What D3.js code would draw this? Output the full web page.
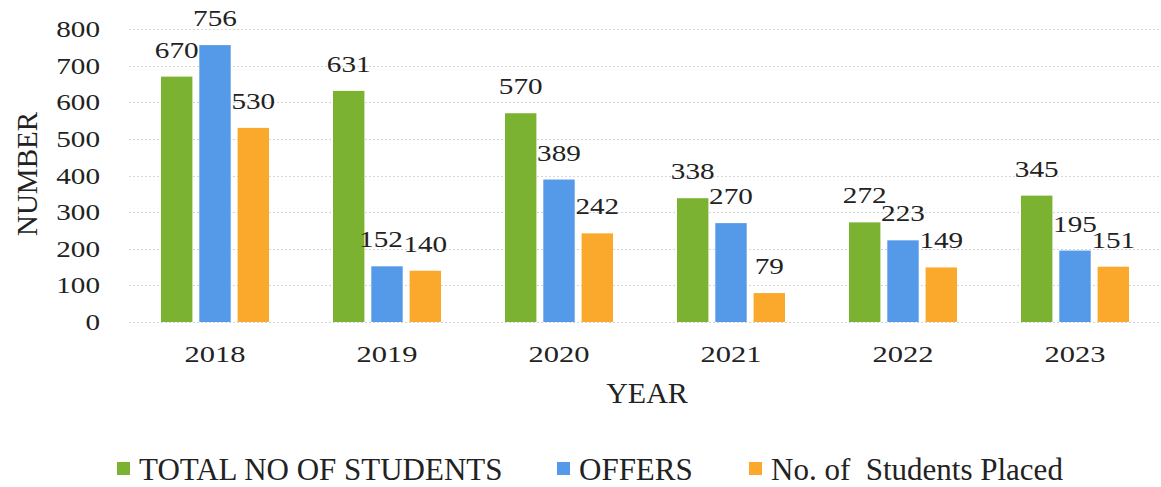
<!DOCTYPE html>
<html>
    <head>
        <meta charset="utf-8">
        <script type="text/javascript" src="https://d3js.org/d3.v7.min.js"></script>
        <style>
            html, body {
                margin: 0;
                background: #fff;
            }
            svg text {
                font-family: "Liberation Serif", "DejaVu Serif", "Times New Roman", Times, serif;
                fill: #222;
            }
            svg .grid line {
                stroke: #d6d6d6;
                stroke-dasharray: 2,2;
            }
        </style>
    </head>
    <body>
        <div id="chart"></div>
        <script>
            var years = ["2018", "2019", "2020", "2021", "2022", "2023"];
            var seriesNames = ["TOTAL NO OF STUDENTS", "OFFERS", "No. of\u00a0 Students Placed"];
            var totalStudents = [670, 631, 570, 338, 272, 345];
            var offers = [756, 152, 389, 270, 223, 195];
            var placed = [530, 140, 242, 79, 149, 151];
            var yTicks = [0, 100, 200, 300, 400, 500, 600, 700, 800];

            var colors = ["#7cb231", "#5599e9", "#fba92c"];
            var numStretch = 1.27;   // numbers in the source look wide

            var width = 1161, height = 487;

            var rows = years.map(function(y, i) {
                return {year: y, values: [totalStudents[i], offers[i], placed[i]]};
            });

            var x0 = d3.scaleBand().domain(years).range([129, 1161]).padding(0);
            var x1 = d3.scaleBand().domain(d3.range(3)).range([32, 140]).paddingInner(0.18);
            var yScale = d3.scaleLinear().domain([0, 800]).range([322, 29]);

            var svg = d3.select("#chart")
                .append("svg")
                    .attr("width", width)
                    .attr("height", height);

            // dotted grid
            svg.append("g")
                .attr("class", "grid")
                .selectAll("line")
                .data(yTicks)
                .enter()
                .append("line")
                .attr("x1", 129)
                .attr("x2", 1161)
                .attr("y1", function(d) { return Math.round(yScale(d)) + 0.5; })
                .attr("y2", function(d) { return Math.round(yScale(d)) + 0.5; });

            function stretchedText(parent, x, y, txt, size, anchor) {
                parent.append("text")
                    .attr("transform", "translate(" + x + "," + y + ") scale(" + numStretch + ",1)")
                    .attr("text-anchor", anchor)
                    .style("font-size", size + "px")
                    .text(txt);
            }

            // y tick labels
            var yAxis = svg.append("g").attr("class", "y axis");
            yTicks.forEach(function(t) {
                stretchedText(yAxis, 100, yScale(t) + 8, t, 23, "end");
            });

            // x tick labels
            var xAxis = svg.append("g").attr("class", "x axis");
            years.forEach(function(y) {
                stretchedText(xAxis, x0(y) + x0.bandwidth() / 2, 362, y, 24, "middle");
            });

            // bars
            var groups = svg.append("g")
                .attr("class", "bars")
                .selectAll("g")
                .data(rows)
                .enter()
                .append("g")
                .attr("transform", function(d) { return "translate(" + x0(d.year) + ",0)"; });

            groups.selectAll("rect")
                .data(function(d) { return d.values; })
                .enter()
                .append("rect")
                .attr("x", function(d, i) { return x1(i); })
                .attr("width", x1.bandwidth())
                .attr("y", function(d) { return yScale(d); })
                .attr("height", function(d) { return yScale(0) - yScale(d); })
                .attr("fill", function(d, i) { return colors[i]; });

            groups.each(function(d) {
                var g = d3.select(this);
                d.values.forEach(function(v, i) {
                    // the 2019 offers label sits a bit left so it clears its neighbour
                    var nudge = (d.year == "2019" && i == 1) ? -6 : 0;
                    stretchedText(g, x1(i) + x1.bandwidth() / 2 + nudge, yScale(v) - 19, v, 23, "middle");
                });
            });

            // axis titles
            svg.append("text")
                .attr("x", 647)
                .attr("y", 403)
                .attr("text-anchor", "middle")
                .style("font-size", "30px")
                .text("YEAR");

            svg.append("text")
                .attr("transform", "translate(37,174) rotate(-90)")
                .attr("text-anchor", "middle")
                .style("font-size", "29px")
                .text("NUMBER");

            // legend
            var legendX = [117, 557, 749];
            var legend = svg.append("g").attr("class", "legend");
            seriesNames.forEach(function(name, i) {
                legend.append("rect")
                    .attr("x", legendX[i])
                    .attr("y", 462)
                    .attr("width", 13)
                    .attr("height", 13)
                    .attr("fill", colors[i]);
                legend.append("text")
                    .attr("x", legendX[i] + 22)
                    .attr("y", 480)
                    .style("font-size", "31px")
                    .text(name);
            });
        </script>
    </body>
</html>
